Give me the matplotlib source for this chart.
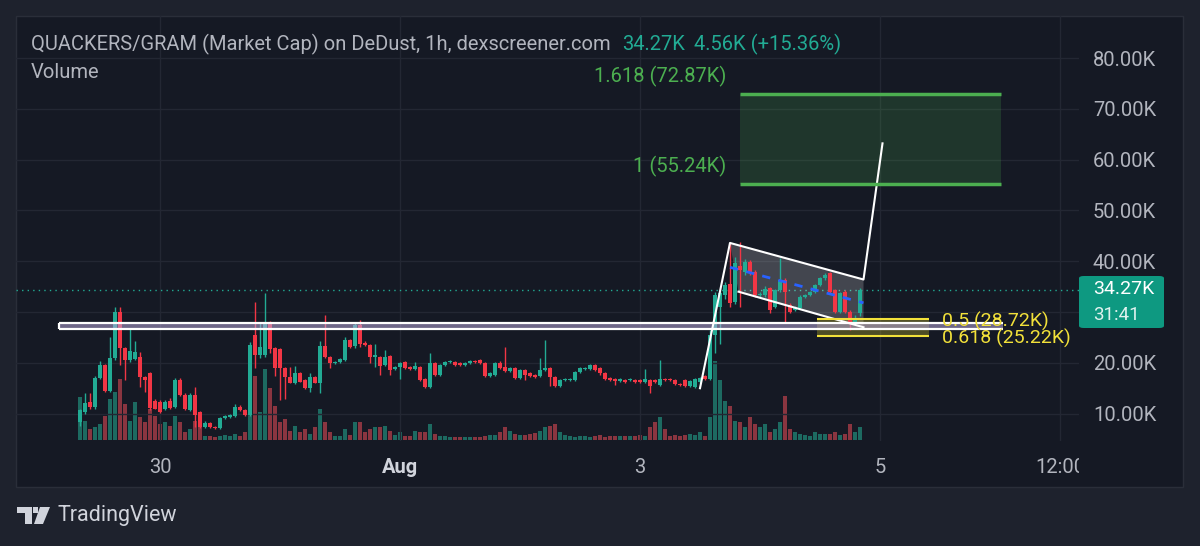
import matplotlib
matplotlib.use("Agg")
import matplotlib.pyplot as plt
from matplotlib.patches import Rectangle, Polygon, FancyBboxPatch
import numpy as np

# hourly candles, market cap in K
opens = [8.4, 10.3, 12.3, 11.3, 17.0, 19.6, 14.4, 21.0, 30.0, 22.9,
         20.6, 20.8, 21.1, 17.2, 18.0, 12.4, 12.2, 11.0, 12.5, 11.4,
         16.6, 13.7, 10.8, 13.7, 10.4, 7.4, 8.1, 7.4, 7.1, 9.1,
         9.4, 9.5, 11.4, 10.7, 9.7, 25.5, 21.5, 21.5, 27.8, 22.9,
         22.8, 18.9, 17.3, 16.1, 17.9, 16.6, 15.0, 17.2, 16.1, 23.3,
         21.1, 19.9, 20.2, 20.6, 24.5, 23.3, 27.4, 23.9, 23.5, 21.2,
         21.2, 19.6, 21.3, 18.7, 19.1, 20.2, 19.1, 18.7, 19.1, 16.9,
         15.3, 19.9, 17.6, 19.6, 20.1, 20.2, 19.9, 19.5, 20.0, 20.4,
         20.5, 19.9, 17.4, 17.6, 20.0, 19.1, 18.3, 18.9, 17.1, 18.6,
         17.9, 17.6, 17.4, 18.6, 18.9, 17.3, 15.4, 16.6, 16.6, 16.6,
         18.1, 18.7, 18.7, 19.6, 18.9, 17.9, 17.1, 16.9, 16.5, 16.7,
         16.6, 16.7, 16.7, 16.3, 16.7, 16.6, 15.6, 16.9, 16.8, 16.7,
         15.9, 16.7, 15.4, 15.3, 16.3, 17.4, 16.9, 25.5, 31.0, 33.3,
         35.6, 32.0, 39.0, 37.9, 39.9, 37.9, 33.3, 33.3, 34.7, 31.0,
         34.3, 36.3, 31.4, 30.4, 30.7, 33.0, 33.3, 34.0, 35.3, 36.6,
         37.6, 34.3, 30.1, 34.0, 30.1, 27.8, 29.71]
highs = [11.0, 14.0, 14.0, 17.5, 20.4, 19.8, 25.1, 31.0, 31.0, 23.2,
         26.6, 24.2, 22.2, 17.5, 18.2, 12.8, 12.6, 12.6, 13.0, 17.0,
         17.1, 14.0, 14.0, 15.3, 10.6, 8.5, 8.3, 7.6, 9.3, 9.7,
         9.9, 11.8, 11.6, 10.9, 24.0, 32.0, 28.1, 33.7, 28.2, 23.2,
         23.0, 19.2, 19.1, 19.4, 18.1, 16.8, 17.9, 17.4, 24.2, 29.4,
         21.3, 20.4, 20.9, 25.1, 24.7, 28.1, 28.4, 24.2, 23.8, 23.8,
         21.4, 22.5, 21.5, 19.3, 20.2, 20.4, 19.3, 20.2, 19.3, 17.1,
         21.9, 20.1, 19.8, 20.3, 20.5, 20.4, 20.1, 20.2, 20.6, 20.6,
         20.7, 20.1, 18.1, 20.2, 20.4, 23.2, 19.1, 19.1, 18.8, 18.8,
         18.1, 17.8, 20.9, 24.5, 19.1, 17.5, 16.8, 17.0, 17.1, 18.3,
         19.1, 19.1, 19.8, 19.8, 19.1, 18.1, 17.3, 17.1, 17.1, 16.9,
         17.0, 16.9, 16.9, 18.7, 16.9, 16.8, 20.6, 17.1, 17.0, 16.9,
         16.1, 16.9, 16.7, 17.1, 17.3, 17.6, 26.5, 34.0, 34.2, 36.0,
         43.5, 40.9, 43.8, 40.4, 40.2, 38.2, 34.0, 35.2, 35.0, 34.6,
         40.6, 36.6, 31.8, 31.1, 33.3, 33.6, 34.2, 35.6, 36.9, 37.6,
         37.9, 34.5, 34.0, 34.3, 30.4, 29.5, 34.8]
lows = [7.5, 10.0, 11.0, 11.0, 16.8, 14.2, 14.2, 20.5, 19.6, 16.6,
        20.2, 20.5, 15.3, 14.3, 10.8, 10.9, 10.2, 10.8, 11.0, 11.2,
        13.5, 10.8, 10.6, 7.4, 7.2, 7.2, 7.1, 6.9, 7.0, 8.9,
        9.2, 9.4, 10.5, 9.6, 9.5, 19.0, 21.0, 21.2, 22.0, 17.5,
        12.7, 12.8, 16.0, 15.8, 16.2, 14.8, 14.3, 16.0, 14.0, 21.0,
        18.9, 19.7, 20.0, 20.4, 23.0, 23.0, 23.2, 23.3, 19.9, 19.2,
        17.6, 19.4, 17.6, 18.5, 16.9, 18.7, 18.5, 18.5, 16.5, 15.1,
        15.1, 17.4, 17.4, 19.4, 19.9, 19.4, 19.4, 19.3, 19.8, 20.0,
        19.7, 17.2, 17.2, 17.4, 18.7, 18.1, 18.1, 16.9, 16.9, 16.6,
        17.2, 17.1, 17.2, 18.4, 15.4, 15.2, 15.2, 16.4, 16.4, 16.4,
        17.9, 18.5, 18.5, 18.4, 17.7, 16.7, 16.4, 15.6, 16.3, 16.1,
        16.4, 16.1, 16.1, 16.1, 14.0, 16.1, 15.4, 16.4, 16.4, 15.6,
        15.4, 15.2, 15.2, 15.0, 16.1, 16.7, 16.6, 22.0, 23.8, 32.5,
        31.0, 31.5, 31.0, 37.2, 37.2, 33.0, 33.0, 33.0, 29.9, 30.7,
        34.0, 28.1, 29.8, 30.2, 30.5, 32.8, 33.1, 33.8, 35.1, 36.4,
        33.8, 29.9, 29.9, 29.9, 26.5, 27.6, 29.2]
closes = [10.7, 12.1, 11.3, 17.0, 19.6, 14.4, 21.0, 30.0, 22.9, 20.6,
          22.3, 22.2, 17.2, 16.6, 11.1, 11.0, 10.4, 12.3, 11.2, 16.6,
          13.7, 11.0, 13.7, 9.7, 7.4, 8.2, 7.3, 7.1, 9.1, 9.5,
          9.7, 11.4, 10.7, 9.7, 23.5, 21.5, 23.2, 27.8, 22.8, 19.0,
          18.9, 17.3, 16.1, 17.9, 16.3, 15.0, 17.2, 16.1, 23.3, 21.1,
          19.9, 20.2, 20.7, 24.5, 23.2, 27.4, 23.8, 23.5, 21.2, 21.5,
          19.4, 21.2, 18.6, 19.1, 20.0, 18.9, 18.7, 19.4, 16.7, 15.3,
          19.9, 17.6, 19.6, 20.1, 20.3, 19.6, 19.6, 20.0, 20.4, 20.2,
          19.9, 17.4, 17.9, 20.0, 18.9, 18.3, 18.9, 17.1, 18.6, 17.6,
          17.4, 17.3, 18.6, 18.9, 17.3, 15.4, 16.6, 16.8, 16.9, 18.1,
          18.9, 18.9, 19.6, 18.6, 17.9, 16.9, 16.6, 16.5, 16.9, 16.3,
          16.8, 16.3, 16.3, 16.8, 15.4, 16.3, 16.9, 16.6, 16.6, 15.8,
          15.6, 15.4, 16.5, 16.9, 17.1, 16.9, 25.5, 33.3, 33.7, 35.3,
          31.8, 39.6, 38.3, 39.9, 37.6, 33.3, 33.6, 34.6, 30.4, 34.3,
          36.3, 34.0, 30.1, 30.9, 33.0, 33.3, 34.0, 35.3, 36.6, 37.3,
          34.0, 30.1, 33.7, 30.1, 27.8, 28.9, 34.27]
volumes = [127, 57, 32, 37, 47, 72, 122, 142, 182, 107,
           57, 112, 67, 52, 92, 72, 47, 52, 42, 72,
           52, 22, 32, 57, 77, 12, 10, 7, 12, 14,
           12, 17, 12, 22, 107, 192, 82, 212, 157, 102,
           52, 62, 27, 42, 22, 32, 17, 37, 92, 52,
           22, 12, 10, 32, 14, 52, 52, 22, 32, 37,
           37, 42, 27, 14, 22, 12, 12, 27, 22, 22,
           47, 17, 12, 10, 9, 9, 8, 8, 9, 8,
           8, 12, 14, 15, 22, 37, 27, 17, 14, 15,
           16, 19, 27, 37, 40, 47, 22, 14, 12, 7,
           12, 12, 9, 12, 14, 9, 12, 12, 12, 11,
           12, 12, 14, 12, 37, 52, 67, 32, 12, 14,
           12, 15, 17, 14, 22, 12, 67, 237, 180, 117,
           102, 57, 52, 37, 67, 47, 37, 47, 22, 32,
           52, 132, 32, 22, 17, 14, 12, 22, 17, 17,
           17, 22, 15, 18, 47, 22, 37]

price_levels = [10, 20, 30, 40, 50, 60, 70, 80]
time_labels = ["30", "Aug", "3", "5", "12:00"]
time_pos = [16, 64, 112, 160, 196]

last_price = 34.27
fib_ext = [(1.618, 72.87), (1, 55.24)]
fib_ret = [(0.5, 28.72), (0.618, 25.22)]
support_band = (26.65, 27.83)

W, H = 1200, 546
OUTER = "#1e222d"
PANEL = "#151924"
GRID = "#232733"
TXT = "#b2b5be"
UP = "#22ab94"
DOWN = "#f23645"
FONT = "Roboto"
FS = 14.5


def fx(x):
    return x / W


def fy(y):
    return 1 - y / H


fig = plt.figure(figsize=(12, 5.46), dpi=100)
fig.patch.set_facecolor(OUTER)
fig.add_artist(Rectangle((fx(16), fy(487)), 1167 / W, 471 / H, transform=fig.transFigure,
                         facecolor=PANEL, edgecolor="#2a2e39", lw=1, zorder=0))

rect = [fx(16), fy(441), 1063 / W, 425 / H]
vax = fig.add_axes(rect)
ax = fig.add_axes(rect, sharex=vax)
for a in (ax, vax):
    a.set_facecolor("none")
    for s in a.spines.values():
        s.set_visible(False)

x = np.arange(len(opens))
o = np.array(opens)
c = np.array(closes)
up = c >= o
cols = np.where(up, UP, DOWN)

# volume
vax.bar(x, volumes, width=0.75, color=np.where(up, "#1d6a61", "#8a3540"), zorder=1)
vax.set_ylim(-4, 1275)
vax.set_yticks([])
vax.tick_params(axis="x", length=0, labelbottom=False)

# candles
ax.vlines(x, lows, highs, colors=cols, lw=1, zorder=4)
body = np.maximum(np.abs(c - o), 0.15)
ax.bar(x, body, bottom=np.minimum(o, c), width=0.75, color=cols, zorder=5)

ax.set_xlim(-12.8, 199.8)
ax.set_ylim(4.61, 88.27)

# the 30K label sits under the last-price tag, so it is left blank
ax.yaxis.tick_right()
ax.set_yticks(price_levels)
ax.set_yticklabels(["" if v == 30 else f"{v:.2f}K" for v in price_levels],
                   fontsize=FS, color=TXT, family=FONT)
ax.tick_params(axis="y", length=0, pad=10)
ax.set_xticks(time_pos)
ax.set_xticklabels(time_labels, fontsize=FS, color=TXT, family=FONT)
ax.get_xticklabels()[1].set_fontweight("bold")
ax.get_xticklabels()[1].set_color("#d1d4dc")
ax.tick_params(axis="x", length=0, pad=12)
ax.grid(True, color=GRID, lw=1, zorder=0)
ax.set_axisbelow(True)

# horizontal support band
ax.add_patch(Rectangle((-4.2, support_band[0]), 188.8, support_band[1] - support_band[0],
                       facecolor="#b9a9dc", alpha=0.55, edgecolor="none", zorder=6))
ax.hlines(support_band, -4.2, 184.6, colors="white", lw=1.6, zorder=6)
ax.vlines(-4.2, support_band[0], support_band[1], colors="white", lw=1.6, zorder=6)

# current price line
ax.axhline(last_price, color=UP, ls=(0, (1, 3)), lw=1, zorder=2)

# flag
ax.add_patch(Polygon([(130, 43.6), (156.7, 36.4), (156.7, 27.0), (131.7, 34.0)],
                     closed=True, facecolor="white", alpha=0.2, edgecolor="none", zorder=3))
ax.plot([124, 130, 156.7, 160.5], [15.0, 43.6, 36.4, 63.2], color="white", lw=1.5, zorder=7)
ax.plot([131.7, 156.7], [34.0, 27.0], color="white", lw=1.5, zorder=7)
ax.plot([130, 156.7], [38.8, 31.8], color="#2962ff", lw=2, ls=(0, (3, 3)), zorder=7)

# fib extension box
ax.add_patch(Rectangle((132, fib_ext[1][1]), 52.2, fib_ext[0][1] - fib_ext[1][1],
                       facecolor="#4caf50", alpha=0.2, edgecolor="none", zorder=3))
ax.hlines([v for _, v in fib_ext], 132, 184.2, colors="#4caf50", lw=2.5, zorder=7)

# fib retracement box
ax.add_patch(Rectangle((147.3, fib_ret[1][1]), 22.4, fib_ret[0][1] - fib_ret[1][1],
                       facecolor="#d4c62a", alpha=0.3, edgecolor="none", zorder=3))
ax.hlines([v for _, v in fib_ret], 147.3, 169.7, colors="#f2e13a", lw=1.5, zorder=7)

# fib labels
for (lvl, val), y in zip(fib_ext, [76, 166]):
    fig.text(fx(726), fy(y), f"{lvl:g} ({val:.2f}K)", color="#4caf50", fontsize=FS,
             family=FONT, ha="right", va="center")
for (lvl, val), y in zip(fib_ret, [321, 338]):
    fig.text(fx(942), fy(y), f"{lvl:g} ({val:.2f}K)", color="#f2e13a", fontsize=FS - 0.5,
             family=FONT, ha="left", va="center", zorder=8)

# header
fig.text(fx(31), fy(44), "QUACKERS/GRAM (Market Cap) on DeDust, 1h, dexscreener.com",
         color=TXT, fontsize=FS, family=FONT, va="center")
fig.text(fx(622), fy(44), "34.27K", color=UP, fontsize=FS, family=FONT, va="center")
fig.text(fx(694), fy(44), "4.56K (+15.36%)", color=UP, fontsize=FS, family=FONT, va="center")
fig.text(fx(31), fy(72), "Volume", color=TXT, fontsize=FS, family=FONT, va="center")

# cover price scale corner (cuts the 12:00 label)
fig.add_artist(Rectangle((fx(1079), fy(486)), 103 / W, 44 / H, transform=fig.transFigure,
                         facecolor=PANEL, edgecolor="none", zorder=5))

# last price tag
fig.add_artist(FancyBboxPatch((fx(1079), fy(328)), 85 / W, 52 / H, transform=fig.transFigure,
                              boxstyle="round,pad=0,rounding_size=0.004",
                              facecolor="#0e9981", edgecolor="none", zorder=6))
fig.text(fx(1093), fy(289), f"{last_price:.2f}K", color="white", fontsize=FS - 0.5,
         family=FONT, va="center", zorder=7)
fig.text(fx(1093), fy(315), "31:41", color="#e0f2ef", fontsize=FS - 1, family=FONT,
         va="center", zorder=7)

# TradingView logo
logo = dict(transform=fig.transFigure, facecolor="#d1d4dc", edgecolor="none", zorder=6)
fig.add_artist(Polygon([(fx(17), fy(507)), (fx(32), fy(507)), (fx(32), fy(524)),
                        (fx(25), fy(524)), (fx(25), fy(513)), (fx(17), fy(513))], **logo))
fig.add_artist(Polygon([(fx(33), fy(507)), (fx(38), fy(507)), (fx(38), fy(513)),
                        (fx(33), fy(513))], **logo))
fig.add_artist(Polygon([(fx(40), fy(507)), (fx(50), fy(507)), (fx(43), fy(524)),
                        (fx(34), fy(524))], **logo))
fig.text(fx(57), fy(516), "TradingView", color="#d1d4dc", fontsize=15.5, family=FONT, va="center")

fig.savefig("out.png", dpi=100, facecolor=fig.get_facecolor())
